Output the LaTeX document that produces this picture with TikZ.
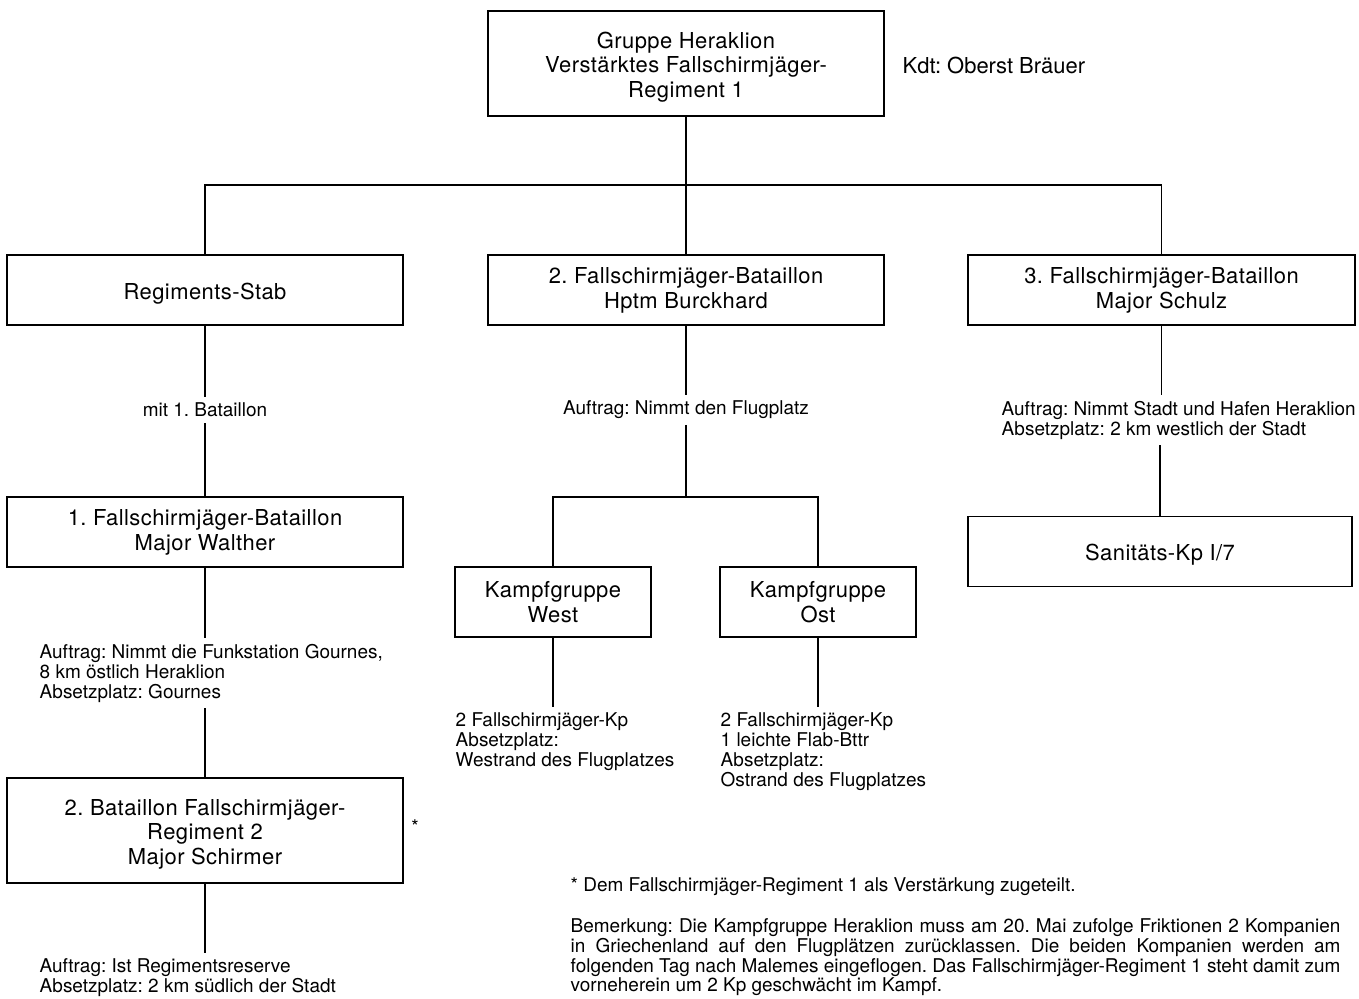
\documentclass[tikz,border=0pt]{standalone}
\usepackage{fontspec}
\setmainfont{TeX Gyre Heros}
\frenchspacing

% Stuetze fuer die erste Zeile in den Kaesten
\newcommand{\lift}{\rule{0pt}{13.5pt}}

\tikzset{
  unit/.style = {draw, align=center, inner sep=0pt, minimum width=7.92cm,
    minimum height=1.4cm, font=\fontsize{12.5}{14.2}\selectfont\addfontfeature{LetterSpace=2}},
  note/.style = {align=left, inner xsep=0pt, inner ysep=3pt,
    font=\fontsize{10.8}{11.4}\selectfont},
  order/.style = {note, anchor=north west},
}

\begin{document}
\begin{tikzpicture}[x=0.02cm, y=-0.02cm, line width=0.8pt]
  \useasboundingbox (0,0) rectangle (1359,998);

  % Regimentsstufe
  \node [unit, minimum height=2.1cm] (reg) at (686,63.5)
    {\lift Gruppe Heraklion\\Verstärktes Fallschirmjäger-\\Regiment 1};
  \node [note, anchor=west, font=\fontsize{12.5}{14.2}\selectfont] (kdt) at (902,65)
    {Kdt: Oberst Bräuer};

  \node [unit] (stab) at (205,290) {\lift Regiments-Stab};
  \node [unit] (bat2) at (686,290) {2. Fallschirmjäger-Bataillon\\Hptm Burckhard};
  \node [unit, minimum width=7.74cm] (bat3) at (1161.5,290)
    {3. Fallschirmjäger-Bataillon\\Major Schulz};

  \coordinate (fork) at (686,185);
  \draw (reg) -- (fork);
  \draw (stab.north) |- (fork) -| (bat3.north);
  \draw (fork) -- (bat2.north);

  % linker Ast
  \node [note] (mit) at (205,410) {mit 1. Bataillon};
  \node [unit] (bat1) at (205,532) {1. Fallschirmjäger-Bataillon\\Major Walther};
  \node [order] (auf1) at (39,638)
    {Auftrag: Nimmt die Funkstation Gournes,\\8 km östlich Heraklion\\Absetzplatz: Gournes};
  \node [unit, minimum height=2.1cm] (res) at (205,830.5)
    {\lift 2. Bataillon Fallschirmjäger-\\Regiment 2\\Major Schirmer};
  \node [note] (star) at (415,827) {*};
  \node [order] (auf2) at (39,953)
    {Auftrag: Ist Regimentsreserve\\Absetzplatz: 2 km südlich der Stadt};

  \draw (stab) -- (mit);
  \draw (mit) -- (bat1);
  \draw (bat1.south) -- (bat1.south |- auf1.north);
  \draw (bat1.south |- auf1.south) -- (res.north);
  \draw (res.south) -- (res.south |- auf2.north);

  % mittlerer Ast
  \node [note] (flug) at (686,410) {Auftrag: Nimmt den Flugplatz};
  \node [unit, minimum width=3.92cm] (west) at (553,602) {Kampfgruppe\\West};
  \node [unit, minimum width=3.92cm] (ost) at (818,602) {Kampfgruppe\\Ost};
  \node [order] (westauf) at (455,707)
    {2 Fallschirmjäger-Kp\\Absetzplatz:\\Westrand des Flugplatzes};
  \node [order] (ostauf) at (720,707)
    {2 Fallschirmjäger-Kp\\1 leichte Flab-Bttr\\Absetzplatz:\\Ostrand des Flugplatzes};

  \coordinate (split) at (686,497);
  \draw (bat2) -- (flug);
  \draw (flug) -- (split);
  \draw (west.north) |- (split) -| (ost.north);
  \draw (west.south) -- (west.south |- westauf.north);
  \draw (ost.south) -- (ost.south |- ostauf.north);

  % rechter Ast
  \node [order] (stadt) at (1001,395)
    {Auftrag: Nimmt Stadt und Hafen Heraklion\\Absetzplatz: 2 km westlich der Stadt};
  \node [unit, minimum width=7.68cm] (san) at (1160,551.5) {\lift Sanitäts-Kp I/7};
  \draw (bat3.south) -- (bat3.south |- stadt.north);
  \draw (san.north |- stadt.south) -- (san.north);

  % Anmerkungen
  \node [order] (fuss) at (570,872) {* Dem Fallschirmjäger-Regiment 1 als Verstärkung zugeteilt.};
  \node [order, align=justify, text width=15.4cm,
    font=\fontsize{10.8}{11.2}\selectfont] (bem) at (570,913)
    {Bemerkung: Die Kampfgruppe Heraklion muss am 20. Mai zufolge Friktionen 2 Kompanien\linebreak
     in Griechenland auf den Flugplätzen zurücklassen. Die beiden Kompanien werden am\linebreak
     folgenden Tag nach Malemes eingeflogen. Das Fallschirmjäger-Regiment 1 steht damit zum\linebreak
     vorneherein um 2 Kp geschwächt im Kampf.};
\end{tikzpicture}
\end{document}
